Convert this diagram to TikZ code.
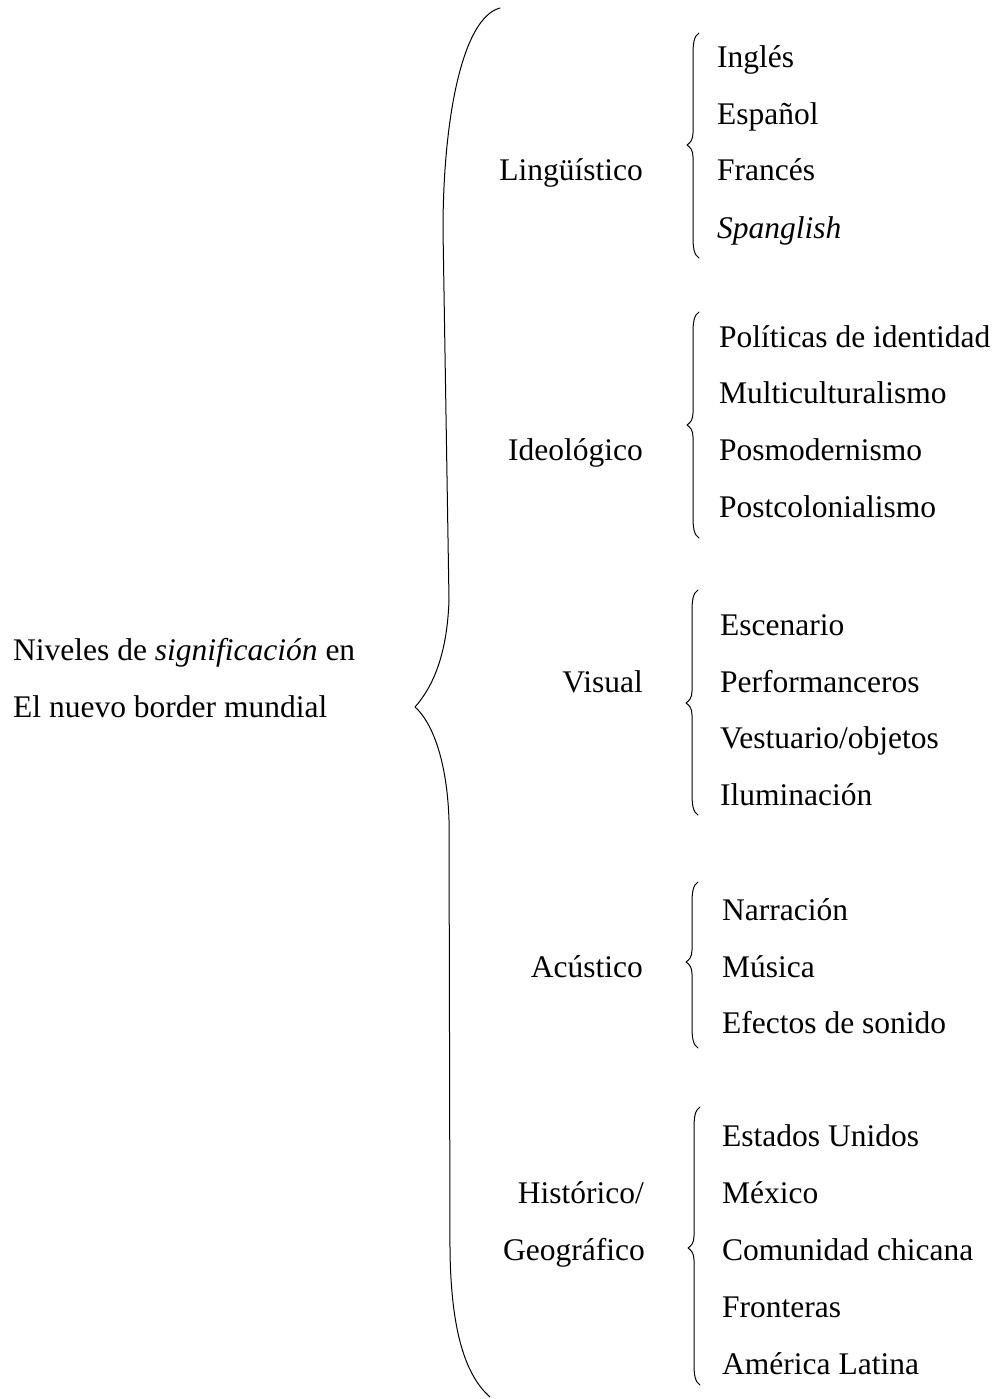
\documentclass[tikz,border=0pt]{standalone}
\usepackage{fontspec}
\setmainfont{Liberation Serif}
\tikzset{
  lbl/.style={inner sep=0pt, font=\fontsize{31.5}{36}\selectfont},
  item/.style={lbl, anchor=base west},
  cat/.style={lbl, anchor=base east},
  brc/.style={draw=black, line width=1pt, line cap=round, line join=round}
}
% small curly brace: x of stem, y of top end, y of tip, y of bottom end
\newcommand{\smallbr}[4]{%
  \draw[brc] (#1+6,#2) .. controls (#1+1,#2+3) and (#1,#2+10) .. (#1,#2+22)
    -- (#1,#3-12) .. controls (#1,#3-5) and (#1-3,#3-2) .. (#1-6,#3)
    .. controls (#1-3,#3+2) and (#1,#3+5) .. (#1,#3+12)
    -- (#1,#4-22) .. controls (#1,#4-10) and (#1+1,#4-3) .. (#1+6,#4);}
\begin{document}
\begin{tikzpicture}[x=1pt,y=-1pt]
\useasboundingbox (0,0) rectangle (993,1399);

% main label
\node[item] (niv1) at (13,660) {Niveles de \textit{significación} en};
\node[item] (niv2) at (13,717) {El nuevo border mundial};

% big brace
\coordinate (bigtop) at (500,8);
\coordinate (bigtip) at (415,707);
\coordinate (bigbot) at (490,1397);
\draw[brc] (bigtop) .. controls (462,18) and (443,120) .. (443,230)
  -- (449,600) .. controls (447,660) and (430,690) .. (bigtip)
  .. controls (432,722) and (447,760) .. (449,820)
  -- (450,1250) .. controls (451,1330) and (465,1375) .. (bigbot);

% categories
\node[cat] (ling) at (643,181) {Lingüístico};
\node[cat] (ideo) at (643,460) {Ideológico};
\node[cat] (visu) at (643,692) {Visual};
\node[cat] (acus) at (643,977) {Acústico};
\node[cat] (hist) at (644,1203) {Histórico/};
\node[cat] (geog) at (645,1260) {Geográfico};

% group 1
\smallbr{693}{33}{145}{258}
\node[item] (ingl) at (717,68) {Inglés};
\node[item] (espa) at (717,125) {Español};
\node[item] (fran) at (717,181) {Francés};
\node[item] (span) at (717,238) {\textit{Spanglish}};

% group 2
\smallbr{693}{312}{425}{538}
\node[item] (poli) at (719,347) {Políticas de identidad};
\node[item] (mult) at (719,403) {Multiculturalismo};
\node[item] (posm) at (719,460) {Posmodernismo};
\node[item] (post) at (719,517) {Postcolonialismo};

% group 3
\smallbr{692}{590}{703}{815}
\node[item] (esce) at (720,635) {Escenario};
\node[item] (perf) at (720,692) {Performanceros};
\node[item] (vest) at (720,748) {Vestuario/objetos};
\node[item] (ilum) at (720,805) {Iluminación};

% group 4
\smallbr{692}{882}{962}{1048}
\node[item] (narr) at (722,920) {Narración};
\node[item] (musi) at (722,977) {Música};
\node[item] (efec) at (722,1033) {Efectos de sonido};

% group 5
\smallbr{694}{1107}{1248}{1385}
\node[item] (esta) at (722,1146) {Estados Unidos};
\node[item] (mexi) at (722,1203) {México};
\node[item] (comu) at (722,1260) {Comunidad chicana};
\node[item] (fron) at (722,1317) {Fronteras};
\node[item] (amer) at (722,1374) {América Latina};
\end{tikzpicture}
\end{document}
